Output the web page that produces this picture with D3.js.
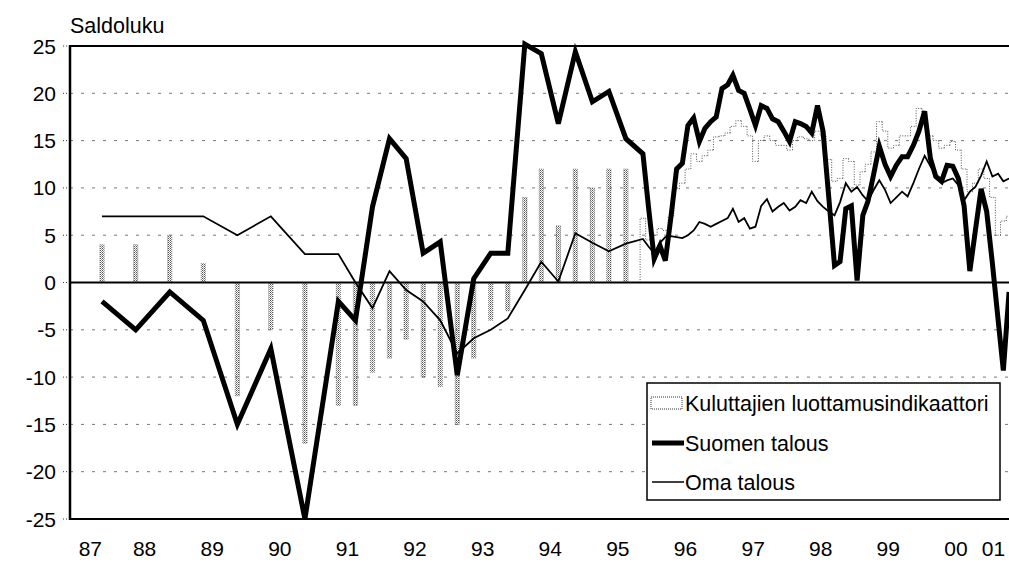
<!DOCTYPE html>
<html>
<head>
<meta charset="utf-8">
<script src="https://cdn.jsdelivr.net/npm/d3@7/dist/d3.min.js"></script>
<style>
  html, body { margin: 0; padding: 0; background: #fff; }
  svg { display: block; font-family: 'Liberation Sans', Arial, Helvetica, sans-serif; }
</style>
</head>
<body>
<div id="chart"></div>
<script>
/* ---- Data: survey rounds (half-yearly, then quarterly, then monthly) ---- */
const periods = [
  '1987-11', '1988-05', '1988-11', '1989-05', '1989-11', '1990-05', '1990-11', '1991-05',
  '1991-08', '1991-11', '1992-02', '1992-05', '1992-08', '1992-11', '1993-02', '1993-05',
  '1993-08', '1993-11', '1994-02', '1994-05', '1994-08', '1994-11', '1995-02', '1995-05', '1995-08',
  '1995-11', '1995-12',
  '1996-01', '1996-02', '1996-03', '1996-04', '1996-05', '1996-06', '1996-07', '1996-08', '1996-09', '1996-10', '1996-11', '1996-12',
  '1997-01', '1997-02', '1997-03', '1997-04', '1997-05', '1997-06', '1997-07', '1997-08', '1997-09', '1997-10', '1997-11', '1997-12',
  '1998-01', '1998-02', '1998-03', '1998-04', '1998-05', '1998-06', '1998-07', '1998-08', '1998-09', '1998-10', '1998-11', '1998-12',
  '1999-01', '1999-02', '1999-03', '1999-04', '1999-05', '1999-06', '1999-07', '1999-08', '1999-09', '1999-10', '1999-11', '1999-12',
  '2000-01', '2000-02', '2000-03', '2000-04', '2000-05', '2000-06', '2000-07', '2000-08', '2000-09', '2000-10', '2000-11', '2000-12',
  '2001-01', '2001-02', '2001-03', '2001-04'
];

// Kuluttajien luottamusindikaattori (bars)
const luottamus = [
  4, 4, 5, 2, -12, -5, -17, -13,
  -13, -9.5, -8, -6, -10, -11, -15, -8,
  -4, -3, 9, 12, 6, 12, 10, 12, 12,
  6.8, 4.5,
  5, 5.7, 5.5, 7, 9.9, 10.5, 12, 13.6, 12.8, 13.4, 14, 15.4,
  15.5, 15.8, 16.5, 17.1, 16.5, 15.5, 12.8, 15, 15.5, 15, 14.5, 14.5,
  14, 15, 15.4, 15.2, 15, 16, 15.5, 13, 10.7, 11, 13.1, 12.8,
  10.3, 11.7, 12.5, 13.8, 17, 16, 14.2, 14.5, 15.5, 15.5, 16.5, 18.4,
  16.6, 15.5, 15, 14.2, 14.5, 14.9, 14, 12, 9.6, 10.5, 12, 11,
  9, 5, 6.5, 7
];

// Suomen talous (thick line)
const suomenTalous = [
  -2, -5, -1, -4, -15, -7, -25, -2,
  -4, 8, 15.2, 13.1, 3.1, 4.3, -9.8, 0.4,
  3.1, 3.1, 25.2, 24.2, 16.8, 24.4, 19.1, 20.2, 15.2,
  13.6, 8,
  2.5, 3.9, 2.3, 7, 12, 12.6, 16.6, 17.4, 14.9, 16.3, 17, 17.5,
  20.5, 20.9, 21.9, 20.3, 20, 18.3, 16.6, 18.7, 18.4, 17.3, 17, 16,
  14.9, 17, 16.8, 16.5, 15.8, 18.7, 16, 9, 1.8, 2.2, 7.8, 8.1,
  0.2, 7.1, 8.6, 11.5, 14.4, 12.5, 11.2, 12.4, 13.3, 13.3, 14.5, 16,
  18.1, 13.1, 11.2, 10.7, 12.4, 12.3, 11, 8.1, 1.2, 5.5, 9.9, 7.5,
  2, -4, -9.3, -1
];

// Oma talous (thin line)
const omaTalous = [
  7, 7, 7, 7, 5, 7, 3, 3,
  0, -2.7, 1.2, -0.8, -2, -4, -7.5, -5.9,
  -5, -3.8, -0.8, 2.2, 0.1, 5.2, 4.2, 3.3, 4.1,
  4.6, 3.8,
  3.1, 4.2, 4.8, 4.9, 4.8, 4.7, 5.0, 5.5, 6.4, 6.2, 5.9, 6.2,
  6.5, 6.8, 7.8, 6.4, 6.8, 5.7, 5.9, 8.1, 8.8, 7.5, 8.0, 8.4,
  7.6, 8.0, 8.7, 8.4, 9.6, 8.6, 8.0, 7.5, 7.1, 8.5, 10.5, 9.6,
  10.1, 9.2, 8.6, 9.8, 10.8, 9.8, 8.4, 9.0, 9.6, 9.1, 10.5, 12.0,
  13.4, 12.3, 11.3, 10.5, 10.8, 11.0, 10.3, 8.7, 9.6, 10.1, 11.3, 12.8,
  11.2, 11.5, 10.7, 11.0
];

const yearLabels = ['87', '88', '89', '90', '91', '92', '93', '94', '95', '96', '97', '98', '99', '00', '01'];
const yTicks = [25, 20, 15, 10, 5, 0, -5, -10, -15, -20, -25];
const legendLabels = ['Kuluttajien luottamusindikaattori', 'Suomen talous', 'Oma talous'];

/* ---- Layout ---- */
const W = 1009, H = 569;
const plotLeft = 70, plotRight = 1010, plotTop = 46, plotBottom = 519;

const parseMonth = d3.timeParse('%Y-%m');
const obs = periods.map((p, i) => {
  const start = parseMonth(p);
  return {
    date: d3.timeDay.offset(start, 14),
    m: start.getFullYear() * 12 + start.getMonth(),
    cci: luottamus[i],
    st: suomenTalous[i],
    ot: omaTalous[i]
  };
});

const x = d3.scaleTime()
  .domain([new Date(1987, 4, 26), new Date(2001, 3, 20)])
  .range([plotLeft, plotRight]);
const y = d3.scaleLinear().domain([-25, 25]).range([plotBottom, plotTop]);

const svg = d3.select('#chart').append('svg')
  .attr('width', W).attr('height', H)
  .style('background', '#fff');

// stipple used for the stand-alone (half-yearly / quarterly) bars
const pat = svg.append('defs').append('pattern')
  .attr('id', 'stipple').attr('patternUnits', 'userSpaceOnUse')
  .attr('width', 2).attr('height', 2);
pat.append('rect').attr('width', 1).attr('height', 1).attr('fill', '#555');
pat.append('rect').attr('x', 1).attr('y', 1).attr('width', 1).attr('height', 1).attr('fill', '#999');

// dashed gridlines
svg.append('g')
  .selectAll('line')
  .data(yTicks.filter(v => v !== 0 && Math.abs(v) !== 25))
  .join('line')
  .attr('x1', plotLeft).attr('x2', plotRight)
  .attr('y1', d => y(d)).attr('y2', d => y(d))
  .attr('stroke', '#777').attr('stroke-width', 1)
  .attr('stroke-dasharray', '3 8');

// y axis labels + small ticks
const yAxis = svg.append('g');
yAxis.selectAll('text')
  .data(yTicks)
  .join('text')
  .attr('x', 56)
  .attr('y', d => y(d) + 7.5)
  .attr('text-anchor', 'end')
  .attr('font-size', '21px')
  .attr('fill', '#000')
  .text(d => d);
yAxis.selectAll('line')
  .data(yTicks)
  .join('line')
  .attr('x1', plotLeft - 7).attr('x2', plotLeft)
  .attr('y1', d => y(d)).attr('y2', d => y(d))
  .attr('stroke', '#333').attr('stroke-width', 1)
  .attr('stroke-dasharray', '1 2');

// bars: isolated rounds as narrow stippled columns,
// consecutive months as a dotted stepped outline
const monthW = (x(new Date(1990, 0, 1)) - x(new Date(1989, 0, 1))) / 12;
const isAdj = (a, b) => a && b && b.m - a.m === 1;
const bars = svg.append('g');
bars.selectAll('rect')
  .data(obs.filter((d, i) => !isAdj(obs[i - 1], d) && !isAdj(d, obs[i + 1])))
  .join('rect')
  .attr('x', d => x(d.date) - 2.2)
  .attr('width', 4.4)
  .attr('y', d => y(Math.max(0, d.cci)))
  .attr('height', d => Math.abs(y(d.cci) - y(0)))
  .attr('fill', 'url(#stipple)')
  .attr('stroke', '#666').attr('stroke-width', 0.6)
  .attr('stroke-dasharray', '1 1');
bars.selectAll('path')
  .data(obs.filter((d, i) => isAdj(obs[i - 1], d) || isAdj(d, obs[i + 1])))
  .join('path')
  .attr('fill', 'none')
  .attr('stroke', '#555')
  .attr('stroke-width', 1)
  .attr('stroke-dasharray', '1 1.5')
  .attr('d', d => {
    const i = obs.indexOf(d);
    const prevAdj = isAdj(obs[i - 1], d);
    const nextAdj = isAdj(d, obs[i + 1]);
    const x0 = x(d.date) - monthW / 2, x1 = x0 + monthW;
    const p = d3.path();
    p.moveTo(x0, y(prevAdj ? obs[i - 1].cci : 0));
    p.lineTo(x0, y(d.cci));
    p.lineTo(x1, y(d.cci));
    if (!nextAdj) p.lineTo(x1, y(0));
    return p.toString();
  });

// frame: top, bottom, left, zero line
const frame = svg.append('g').attr('stroke', '#000');
frame.append('line').attr('x1', plotLeft).attr('x2', plotRight).attr('y1', y(25)).attr('y2', y(25)).attr('stroke-width', 2);
frame.append('line').attr('x1', plotLeft).attr('x2', plotRight).attr('y1', y(-25)).attr('y2', y(-25)).attr('stroke-width', 2);
frame.append('line').attr('x1', plotLeft).attr('x2', plotRight).attr('y1', y(0)).attr('y2', y(0)).attr('stroke-width', 2);
frame.append('line').attr('x1', plotLeft).attr('x2', plotLeft).attr('y1', y(25) - 1).attr('y2', y(-25) + 1).attr('stroke-width', 2.5);

// lines
const lineOf = key => d3.line().x(d => x(d.date)).y(d => y(d[key]));
svg.append('path').datum(obs)
  .attr('fill', 'none').attr('stroke', '#000').attr('stroke-width', 1.8)
  .attr('stroke-linejoin', 'miter')
  .attr('d', lineOf('ot'));
svg.append('path').datum(obs)
  .attr('fill', 'none').attr('stroke', '#000').attr('stroke-width', 5)
  .attr('stroke-linejoin', 'miter')
  .attr('d', lineOf('st'));

// x axis year labels, centred on the visible part of each year
svg.append('g')
  .selectAll('text')
  .data(yearLabels)
  .join('text')
  .attr('x', (d, i) => {
    const yr = 1987 + i;
    const a = Math.max(x(new Date(yr, 0, 1)), plotLeft);
    const b = Math.min(x(new Date(yr + 1, 0, 1)), W - 12);
    return (a + b) / 2;
  })
  .attr('y', 556)
  .attr('text-anchor', 'middle')
  .attr('font-size', '21px')
  .attr('fill', '#000')
  .text(d => d);

// axis title
svg.append('text')
  .attr('x', 70).attr('y', 33)
  .attr('font-size', '21.5px')
  .attr('fill', '#000')
  .text('Saldoluku');

// legend
const lg = svg.append('g').attr('transform', 'translate(647,383)');
lg.append('rect')
  .attr('width', 353).attr('height', 117)
  .attr('fill', '#fff').attr('stroke', '#000').attr('stroke-width', 1.5);
const rows = [20, 60, 99];
lg.append('rect')
  .attr('x', 4).attr('y', rows[0] - 6).attr('width', 31).attr('height', 12)
  .attr('fill', '#fff').attr('stroke', '#333').attr('stroke-width', 1)
  .attr('stroke-dasharray', '1 1');
lg.append('line')
  .attr('x1', 5).attr('x2', 37).attr('y1', rows[1]).attr('y2', rows[1])
  .attr('stroke', '#000').attr('stroke-width', 5);
lg.append('line')
  .attr('x1', 5).attr('x2', 37).attr('y1', rows[2]).attr('y2', rows[2])
  .attr('stroke', '#000').attr('stroke-width', 1.5);
lg.selectAll('text.lbl')
  .data(legendLabels)
  .join('text')
  .attr('class', 'lbl')
  .attr('x', 38)
  .attr('y', (d, i) => rows[i] + 7.5)
  .attr('font-size', '21.5px')
  .attr('fill', '#000')
  .text(d => d);
</script>
</body>
</html>
